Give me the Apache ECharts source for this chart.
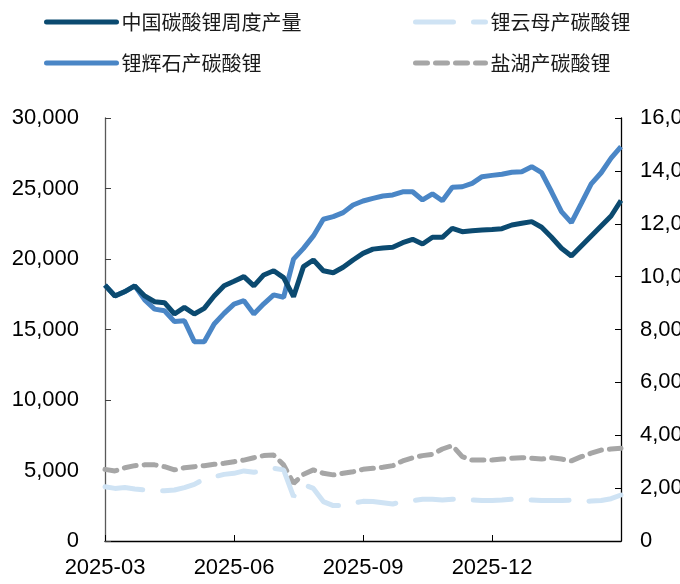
<!DOCTYPE html>
<html><head><meta charset="utf-8">
<script src="https://cdn.jsdelivr.net/npm/echarts@6/dist/echarts.min.js"></script>
<style>html,body{margin:0;padding:0;background:#fff}#c{width:680px;height:584px}</style>
</head><body><div id="c"></div>
<script>
const weeks = ['2025-03-03','2025-03-10','2025-03-17','2025-03-24','2025-03-31','2025-04-07','2025-04-14','2025-04-21','2025-04-28','2025-05-05','2025-05-12','2025-05-19','2025-05-26','2025-06-02','2025-06-09','2025-06-16','2025-06-23','2025-06-30','2025-07-07','2025-07-14','2025-07-21','2025-07-28','2025-08-04','2025-08-11','2025-08-18','2025-08-25','2025-09-01','2025-09-08','2025-09-15','2025-09-22','2025-09-29','2025-10-06','2025-10-13','2025-10-20','2025-10-27','2025-11-03','2025-11-10','2025-11-17','2025-11-24','2025-12-01','2025-12-08','2025-12-15','2025-12-22','2025-12-29','2026-01-05','2026-01-12','2026-01-19','2026-01-26','2026-02-02','2026-02-09','2026-02-16','2026-02-23','2026-03-02'];
const labelWeeks = ['2025-03-03','2025-06-02','2025-09-01','2025-12-01'];
const leftTicks = [0,5000,10000,15000,20000,25000,30000];
const rightTicks = [0,2000,4000,6000,8000,10000,12000,14000,16000];

const seriesNames = ['中国碳酸锂周度产量','锂辉石产碳酸锂','锂云母产碳酸锂','盐湖产碳酸锂'];
const totalProd = [18150,17380,17690,18090,17380,16970,16900,16100,16570,16100,16500,17380,18100,18420,18750,18090,18870,19170,18680,17330,19460,19930,19170,19030,19410,19930,20400,20700,20780,20830,21160,21400,21060,21540,21540,22180,21940,22010,22060,22100,22150,22410,22530,22650,22250,21540,20760,20210,20920,21630,22340,23050,24150];
const spodumene = [9680,9270,9430,9650,9120,8770,8710,8300,8330,7540,7540,8210,8610,8960,9090,8590,8970,9310,9220,10660,11070,11540,12170,12270,12420,12710,12860,12960,13050,13090,13210,13210,12900,13130,12870,13380,13400,13530,13780,13830,13870,13950,13970,14160,13930,13210,12460,12040,12770,13510,13930,14480,14920];
const lepidolite = [2050,1990,2020,1970,1930,1900,1900,1930,2020,2140,2350,2430,2520,2560,2650,2600,2650,2750,2690,1680,2140,1990,1490,1340,1340,1430,1500,1490,1450,1400,1490,1530,1580,1580,1550,1580,1600,1550,1530,1530,1550,1580,1530,1550,1530,1530,1530,1550,1490,1510,1530,1600,1740];
const brine = [2710,2650,2770,2850,2880,2880,2810,2690,2770,2810,2850,2900,2940,3000,3060,3150,3230,3250,2880,2180,2520,2690,2560,2500,2560,2620,2710,2750,2790,2850,3030,3150,3230,3280,3480,3610,3190,3060,3060,3060,3100,3130,3150,3130,3100,3150,3100,3030,3190,3320,3440,3480,3510];

const colors = ['#0B4A70','#4A86C6','#CFE3F4','#A6A6A6'];
const fmt = v => v.toLocaleString('en-US');
const labelIdx = labelWeeks.map(w => weeks.indexOf(w));
const axisFont = 'Liberation Sans, Arial, sans-serif';

const chart = echarts.init(document.getElementById('c'));
const legendBase = {
  itemWidth: 70, itemHeight: 12, itemGap: 6, padding: 0,
  itemStyle: {color: 'transparent', borderWidth: 0, opacity: 0},
  lineStyle: {width: 5, cap: 'round'},
  textStyle: {fontSize: 20, color: '#1a1a1a', fontFamily: '"Noto Sans CJK SC", sans-serif'}
};
chart.setOption({
  animation: false,
  grid: {left: 105, right: 59, top: 118, bottom: 43, containLabel: false, outerBoundsMode: 'none'},
  legend: [
    Object.assign({data: [seriesNames[0]], left: 44, top: 12}, legendBase),
    Object.assign({data: [seriesNames[1]], left: 44, top: 53}, legendBase),
    Object.assign({data: [seriesNames[2]], left: 413, top: 12}, legendBase),
    Object.assign({data: [seriesNames[3]], left: 413, top: 53}, legendBase)
  ],
  xAxis: {
    type: 'category', data: weeks, boundaryGap: false,
    axisLine: {lineStyle: {color: '#000', width: 1.3}},
    axisTick: {inside: true, length: 6, interval: (i) => labelIdx.includes(i), lineStyle: {color: '#000'}},
    axisLabel: {interval: (i) => labelIdx.includes(i), formatter: v => v.slice(0, 7),
      fontSize: 22, color: '#000', margin: 16, fontFamily: axisFont}
  },
  yAxis: [
    {type: 'value', min: leftTicks[0], max: leftTicks[leftTicks.length-1], interval: 5000,
      splitLine: {show: false},
      axisLine: {show: true, lineStyle: {color: '#595959', width: 1.3}},
      axisTick: {show: true, inside: true, length: 6, lineStyle: {color: '#404040'}},
      axisLabel: {formatter: fmt, fontSize: 22, color: '#000', margin: 26, fontFamily: axisFont}},
    {type: 'value', min: rightTicks[0], max: rightTicks[rightTicks.length-1], interval: 2000,
      splitLine: {show: false},
      axisLine: {show: true, lineStyle: {color: '#000', width: 1.3}},
      axisTick: {show: true, inside: true, length: 6, lineStyle: {color: '#000'}},
      axisLabel: {formatter: fmt, fontSize: 22, color: '#000', margin: 19, fontFamily: axisFont}}
  ],
  series: [
    {name: seriesNames[3], type: 'line', yAxisIndex: 1, data: brine, symbol: 'none', z: 1,
      lineStyle: {color: colors[3], width: 5, type: [12, 8], cap: 'round'}, itemStyle: {color: colors[3]}},
    {name: seriesNames[2], type: 'line', yAxisIndex: 1, data: lepidolite, symbol: 'none', z: 1,
      lineStyle: {color: colors[2], width: 5, type: [38, 20], cap: 'round'}, itemStyle: {color: colors[2]}},
    {name: seriesNames[1], type: 'line', yAxisIndex: 1, data: spodumene, symbol: 'none', z: 2,
      lineStyle: {color: colors[1], width: 5}, itemStyle: {color: colors[1]}},
    {name: seriesNames[0], type: 'line', yAxisIndex: 0, data: totalProd, symbol: 'none', z: 3,
      lineStyle: {color: colors[0], width: 5}, itemStyle: {color: colors[0]}}
  ]
});
</script></body></html>
